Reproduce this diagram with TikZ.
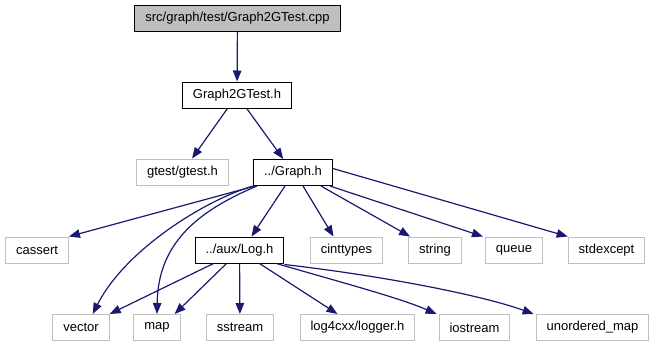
\documentclass[tikz,border=0pt]{standalone}
\usepackage{fontspec}
\setmainfont{Liberation Sans}
\usepackage{tikz}
\usetikzlibrary{arrows.meta}

\definecolor{edgeblue}{HTML}{191970}
\definecolor{boxgray}{HTML}{BFBFBF}

\begin{document}
\begin{tikzpicture}[x=1pt, y=-1pt,
      box/.style={rectangle, draw=black, line width=1pt,
                  minimum height=26pt, inner xsep=10.5pt,
                  font=\fontsize{13}{15}\selectfont},
      sys/.style={box, draw=boxgray},
      arr/.style={-{Triangle[length=11pt, width=8.5pt]}, line width=1.2pt, edgeblue}
    ]
    \useasboundingbox (0,0) rectangle (656,349);

    % source file and its header
    \node[box, fill=boxgray] (cpp) at (237.5,18) {src/graph/test/Graph2GTest.cpp};
    \node[box] (g2h) at (237,95) {Graph2GTest.h};

    \node[sys] (gtest) at (182.5,172) {gtest/gtest.h};
    \node[box] (graph) at (293,172.5) {../Graph.h};

    % second row
    \node[sys] (cassert)   at (37,250)    {cassert};
    \node[box] (log)       at (239.5,250) {../aux/Log.h};
    \node[sys] (cinttypes) at (346.5,250) {cinttypes};
    \node[sys] (string)    at (435,250)   {string};
    \node[sys] (queue)     at (514,250)   {queue};
    \node[sys] (stdexcept) at (606.5,250) {stdexcept};

    % third row
    \node[sys] (vector)  at (81,327.5)    {vector};
    \node[sys] (map)     at (157,327.5)   {map};
    \node[sys] (sstream) at (240,327.5)   {sstream};
    \node[sys] (logger)  at (357.5,327.5) {log4cxx/logger.h};
    \node[sys] (iostream) at (474.5,327.5) {iostream};
    \node[sys] (umap)    at (592.5,327.5) {unordered\_map};

    \draw[arr] (cpp) -- (g2h);
    \draw[arr] (g2h) -- (gtest);
    \draw[arr] (g2h) -- (graph);

    \draw[arr] ([xshift=2pt]graph.south west) -- (cassert.north east);
    \draw[arr] (graph.south west) .. controls (205,200) and (125,250) .. ([xshift=-17pt]vector.north east);
    \draw[arr] ([xshift=4pt]graph.south west) .. controls (195,212) and (158,245) .. (map.north);
    \draw[arr] ([xshift=-8pt]graph.south) -- ([xshift=12pt]log.north);
    \draw[arr] ([xshift=10pt]graph.south) -- ([xshift=-13pt]cinttypes.north);
    \draw[arr] ([xshift=-12pt]graph.south east) -- ([xshift=2pt]string.north west);
    \draw[arr] ([xshift=-3pt]graph.south east) -- ([xshift=-2pt]queue.north west);
    \draw[arr] ([yshift=4pt]graph.east) -- (stdexcept.north west);

    \draw[arr] ([xshift=-26pt]log.south) -- (vector.north east);
    \draw[arr] ([xshift=-13pt]log.south) -- ([xshift=-6pt]map.north east);
    \draw[arr] (log) -- (sstream);
    \draw[arr] ([xshift=20pt]log.south) -- ([xshift=-20pt]logger.north);
    \draw[arr] ([xshift=-8pt]log.south east) .. controls (340,282) and (400,298) .. ([xshift=-2pt]iostream.north west);
    \draw[arr] ([yshift=-1pt]log.south east) .. controls (400,278) and (490,298) .. ([xshift=-2pt]umap.north west);
  \end{tikzpicture}
\end{document}
